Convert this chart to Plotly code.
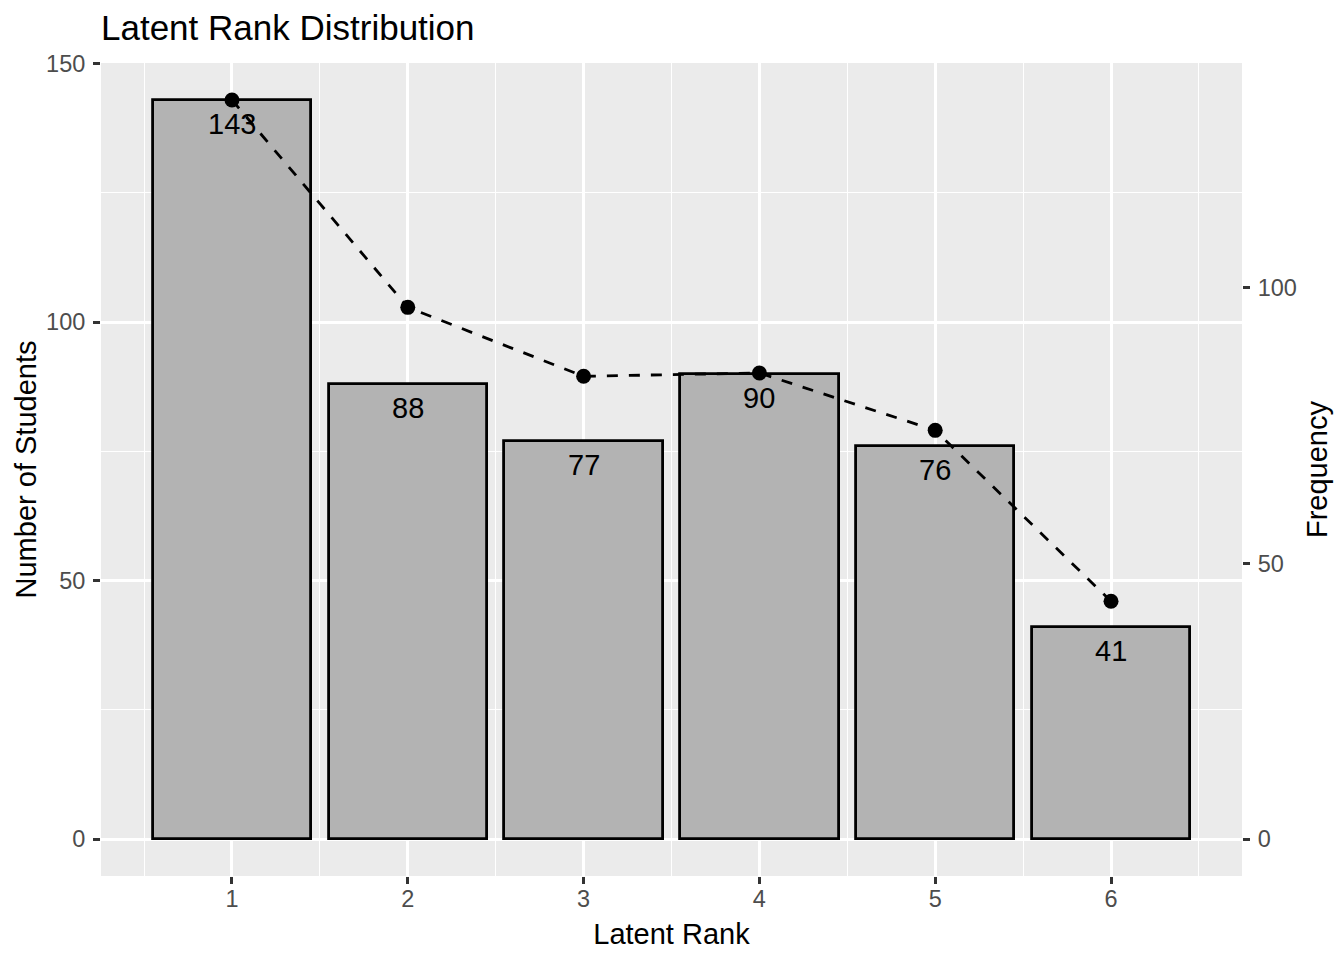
import plotly.graph_objects as go

ranks = [1, 2, 3, 4, 5, 6]
students = [143, 88, 77, 90, 76, 41]
frequency = [134, 96.4, 83.9, 84.5, 74.1, 43.1]
title_text = "Latent Rank Distribution"
x_title = "Latent Rank"
y_title = "Number of Students"
y2_title = "Frequency"

FONT = "Liberation Sans, Arial, Helvetica, sans-serif"

# secondary axis scale (ggplot sec_axis): frequency * k lives on the left scale
k = max(students) / max(frequency)
ylo = 0 - 0.05 * max(students)
yhi = max(students) + 0.05 * max(students)
xlo = ranks[0] - 0.45 - 0.05 * (ranks[-1] - ranks[0] + 0.9)
xhi = ranks[-1] + 0.45 + 0.05 * (ranks[-1] - ranks[0] + 0.9)

fig = go.Figure()
fig.add_trace(go.Bar(
    x=ranks, y=students, width=0.9,
    marker=dict(color="#B3B3B3", line=dict(color="black", width=2.8)),
    hoverinfo="skip", showlegend=False,
))
fig.add_trace(go.Scatter(
    x=ranks, y=frequency, yaxis="y2", mode="lines+markers",
    line=dict(color="black", width=2.8, dash="11px,11px"),
    marker=dict(color="black", size=15),
    showlegend=False, cliponaxis=False,
))

for r, s in zip(ranks, students):
    fig.add_annotation(x=r, y=s, xref="x", yref="y", text=str(s),
                       showarrow=False, yanchor="middle", yshift=-24,
                       font=dict(family=FONT, size=29, color="black"))

tickfont = dict(family=FONT, size=23.5, color="#4D4D4D")
titlefont = dict(family=FONT, size=29, color="black")

fig.update_layout(
    width=1344, height=960,
    margin=dict(l=101, r=102, t=63, b=84, autoexpand=False),
    paper_bgcolor="white", plot_bgcolor="#EBEBEB",
    title=dict(text=title_text, x=101 / 1344, xanchor="left", xref="container",
               y=1 - 28 / 960, yanchor="middle", yref="container",
               font=dict(family=FONT, size=35, color="black")),
    bargap=0,
    xaxis=dict(range=[xlo, xhi], tickvals=ranks, ticktext=[str(r) for r in ranks],
               showgrid=True, gridcolor="white", gridwidth=2.8, zeroline=False,
               ticks="outside", ticklen=7, tickwidth=2.8, tickcolor="#333333",
               tickfont=tickfont, ticklabelstandoff=-5, automargin=False,
               minor=dict(tickvals=[r - 0.5 for r in ranks] + [ranks[-1] + 0.5],
                          showgrid=True, gridcolor="white", gridwidth=1.4, ticks=""),
               title=dict(text=x_title, font=titlefont, standoff=12),
               showline=False, fixedrange=True),
    yaxis=dict(range=[ylo, yhi], tickvals=[0, 50, 100, 150],
               showgrid=True, gridcolor="white", gridwidth=2.8, zeroline=False,
               ticks="outside", ticklen=7, tickwidth=2.8, tickcolor="#333333",
               tickfont=tickfont, ticklabelstandoff=3, automargin=False,
               minor=dict(tickvals=[25, 75, 125], showgrid=True, gridcolor="white",
                          gridwidth=1.4, ticks=""),
               title=dict(text=y_title, font=titlefont, standoff=0),
               showline=False, fixedrange=True),
    yaxis2=dict(range=[ylo / k, yhi / k], tickvals=[0, 50, 100], overlaying="y",
                side="right", showgrid=False, zeroline=False,
                ticks="outside", ticklen=7, tickwidth=2.8, tickcolor="#333333",
                tickfont=tickfont, ticklabelstandoff=3, automargin=False,
                title=dict(text=y2_title, font=titlefont, standoff=10),
                showline=False, fixedrange=True),
)

fig.write_html("out.html", config={"displayModeBar": False},
               post_script="document.body.style.margin='0px';document.body.style.overflow='hidden';")
